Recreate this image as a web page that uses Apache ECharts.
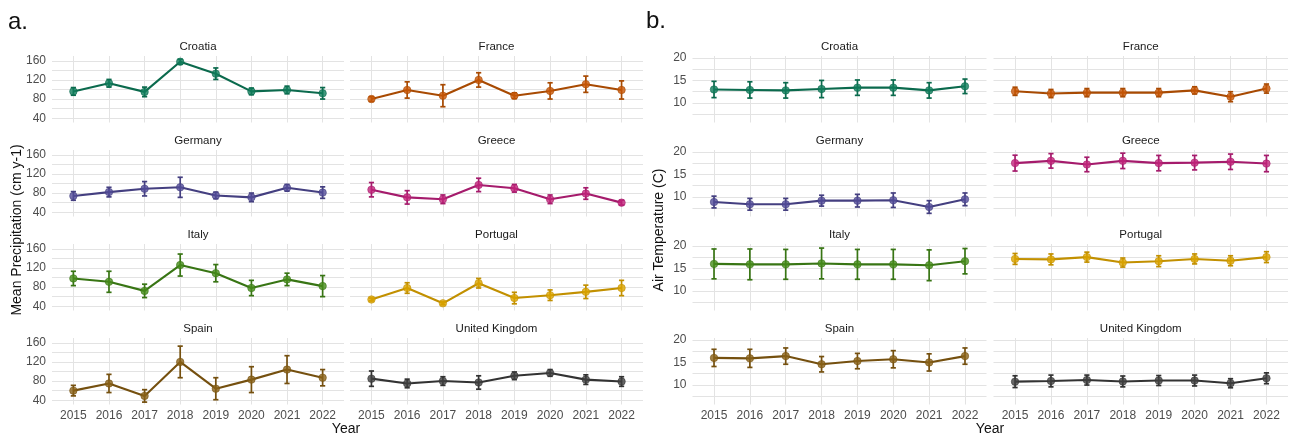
<!DOCTYPE html>
<html>
<head>
<meta charset="utf-8">
<script src="https://cdn.jsdelivr.net/npm/echarts@6/dist/echarts.min.js"></script>
<style>
  html, body { margin: 0; padding: 0; background: #ffffff; }
  #chart { width: 1291px; height: 437px; }
</style>
</head>
<body>
<div id="chart"></div>
<script>
// Years and countries shown in every facet
const years = [2015, 2016, 2017, 2018, 2019, 2020, 2021, 2022];
const countries = ['Croatia', 'France', 'Germany', 'Greece', 'Italy', 'Portugal', 'Spain', 'United Kingdom'];

// a. Mean precipitation (cm y-1): means and error half-widths
const precipCroatia     = [96, 113, 95, 158, 133, 96, 99, 92];
const precipCroatiaErr  = [8, 8, 10, 5, 12, 7, 8, 12];
const precipFrance      = [80, 99, 87, 120, 87, 97, 111, 99];
const precipFranceErr   = [5, 17, 23, 15, 6, 17, 17, 19];
const precipGermany     = [74, 82, 89, 92, 75, 71, 91, 81];
const precipGermanyErr  = [9, 10, 15, 21, 7, 9, 7, 12];
const precipGreece      = [87, 71, 67, 97, 90, 67, 79, 60];
const precipGreeceErr   = [15, 14, 9, 14, 8, 9, 12, 5];
const precipItaly       = [98, 91, 72, 126, 109, 78, 96, 82];
const precipItalyErr    = [15, 22, 14, 23, 18, 16, 13, 22];
const precipPortugal    = [54, 78, 46, 88, 57, 63, 70, 78];
const precipPortugalErr = [3, 11, 3, 10, 12, 11, 14, 16];
const precipSpain       = [60, 75, 49, 120, 64, 83, 104, 87];
const precipSpainErr    = [11, 19, 13, 33, 23, 27, 29, 17];
const precipUK          = [85, 75, 80, 77, 91, 97, 83, 79];
const precipUKErr       = [16, 9, 9, 14, 8, 7, 10, 10];

// b. Air temperature (C): means and error half-widths
const tempCroatia     = [13.0, 12.9, 12.8, 13.1, 13.4, 13.4, 12.8, 13.7];
const tempCroatiaErr  = [1.8, 1.8, 1.7, 1.9, 1.7, 1.7, 1.7, 1.6];
const tempFrance      = [12.6, 12.1, 12.3, 12.3, 12.3, 12.8, 11.4, 13.2];
const tempFranceErr   = [0.9, 0.9, 0.9, 0.9, 0.9, 0.8, 1.1, 1.0];
const tempGermany     = [8.9, 8.4, 8.4, 9.2, 9.2, 9.3, 7.8, 9.5];
const tempGermanyErr  = [1.3, 1.3, 1.3, 1.2, 1.4, 1.6, 1.4, 1.4];
const tempGreece      = [17.5, 18.0, 17.2, 18.0, 17.5, 17.6, 17.8, 17.4];
const tempGreeceErr   = [1.75, 1.6, 1.6, 1.7, 1.7, 1.6, 1.7, 1.8];
const tempItaly       = [16.0, 15.9, 15.9, 16.1, 15.9, 15.9, 15.7, 16.6];
const tempItalyErr    = [3.3, 3.4, 3.3, 3.4, 3.3, 3.3, 3.4, 2.8];
const tempPortugal    = [17.1, 17.0, 17.5, 16.3, 16.6, 17.1, 16.7, 17.5];
const tempPortugalErr = [1.2, 1.2, 1.1, 1.0, 1.2, 1.1, 1.1, 1.2];
const tempSpain       = [16.0, 15.9, 16.4, 14.6, 15.3, 15.7, 15.0, 16.4];
const tempSpainErr    = [1.9, 2.0, 1.8, 1.7, 1.7, 1.9, 1.9, 1.8];
const tempUK          = [10.75, 10.9, 11.1, 10.8, 11.0, 11.0, 10.4, 11.5];
const tempUKErr       = [1.3, 1.3, 1.1, 1.2, 1.1, 1.2, 1.0, 1.2];

// Axis ticks
const precipTickLabels = [40, 80, 120, 160];
const precipGridLines  = [40, 60, 80, 100, 120, 140, 160];
const tempTickLabels   = [10, 15, 20];
const tempGridLines    = [7.5, 10, 12.5, 15, 17.5, 20];

const precipSeries = [
  [precipCroatia, precipCroatiaErr], [precipFrance, precipFranceErr],
  [precipGermany, precipGermanyErr], [precipGreece, precipGreeceErr],
  [precipItaly, precipItalyErr], [precipPortugal, precipPortugalErr],
  [precipSpain, precipSpainErr], [precipUK, precipUKErr]
];
const tempSeries = [
  [tempCroatia, tempCroatiaErr], [tempFrance, tempFranceErr],
  [tempGermany, tempGermanyErr], [tempGreece, tempGreeceErr],
  [tempItaly, tempItalyErr], [tempPortugal, tempPortugalErr],
  [tempSpain, tempSpainErr], [tempUK, tempUKErr]
];

// Per-country colours: [line / error bar, point]
const palette = [
  ['#0b6a4d', '#107d5b'],
  ['#a84a02', '#c85606'],
  ['#443f80', '#534c98'],
  ['#a51b6c', '#c2247b'],
  ['#387514', '#468c1a'],
  ['#c29000', '#dba400'],
  ['#75500f', '#8a6118'],
  ['#333333', '#404040']
];

const FONT = 'Liberation Sans, Arial, sans-serif';
const rowTops = [56, 150, 244, 338];
const panelH = 66.5;

const panels = [
  { series: precipSeries, min: 31, max: 170, labels: precipTickLabels, lines: precipGridLines,
    cols: [[52, 292], [350, 293]] },
  { series: tempSeries, min: 5.7, max: 20.4, labels: tempTickLabels, lines: tempGridLines,
    cols: [[692.5, 294], [993.5, 294.5]] }
];

const grid = [], xAxis = [], yAxis = [], series = [], graphic = [];

panels.forEach((panel, p) => {
  countries.forEach((name, f) => {
    const row = Math.floor(f / 2), col = f % 2;
    const gi = grid.length;
    const [left, width] = panel.cols[col];
    grid.push({ left: left, top: rowTops[row], width: width, height: panelH });

    xAxis.push({
      type: 'value', gridIndex: gi, min: 2014.4, max: 2022.6,
      axisLine: { show: false },
      axisTick: { show: false, customValues: years },
      axisLabel: {
        show: row === 3, customValues: years, margin: 5,
        color: '#4d4d4d', fontSize: 12, fontFamily: FONT,
        formatter: v => String(v)
      },
      splitLine: { show: true, lineStyle: { color: '#e3e3e3', width: 1 } }
    });
    yAxis.push({
      type: 'value', gridIndex: gi, min: panel.min, max: panel.max,
      axisLine: { show: false },
      axisTick: { show: false, customValues: panel.lines },
      axisLabel: {
        show: col === 0, customValues: panel.labels, margin: 6,
        color: '#4d4d4d', fontSize: 12, fontFamily: FONT
      },
      splitLine: { show: true, lineStyle: { color: '#e3e3e3', width: 1 } }
    });

    const [means, errs] = panel.series[f];
    const [lineCol, pointCol] = palette[f];

    series.push({
      type: 'line', xAxisIndex: gi, yAxisIndex: gi,
      data: years.map((y, i) => [y, means[i]]),
      symbol: 'none', z: 2,
      lineStyle: { color: lineCol, width: 2.1 },
      silent: true
    });
    series.push({
      type: 'custom', xAxisIndex: gi, yAxisIndex: gi, z: 3,
      data: years.map((y, i) => [y, means[i] - errs[i], means[i] + errs[i]]),
      encode: { x: 0, y: [1, 2] },
      renderItem: (params, api) => {
        const lo = api.coord([api.value(0), api.value(1)]);
        const hi = api.coord([api.value(0), api.value(2)]);
        const cap = 2.6;
        const style = { stroke: lineCol, lineWidth: 1.7 };
        return {
          type: 'group',
          children: [
            { type: 'line', shape: { x1: lo[0], y1: lo[1], x2: hi[0], y2: hi[1] }, style },
            { type: 'line', shape: { x1: lo[0] - cap, y1: lo[1], x2: lo[0] + cap, y2: lo[1] }, style },
            { type: 'line', shape: { x1: hi[0] - cap, y1: hi[1], x2: hi[0] + cap, y2: hi[1] }, style }
          ]
        };
      },
      silent: true
    });
    series.push({
      type: 'scatter', xAxisIndex: gi, yAxisIndex: gi, z: 4,
      data: years.map((y, i) => [y, means[i]]),
      symbol: 'circle', symbolSize: 7.5,
      itemStyle: { color: pointCol, borderColor: lineCol, borderWidth: 0.7 },
      silent: true
    });

    // facet strip title
    graphic.push({
      type: 'text', x: left + width / 2, y: rowTops[row] - 9.5,
      style: { text: name, align: 'center', verticalAlign: 'middle',
               fill: '#1a1a1a', fontSize: 11.5, fontFamily: FONT }
    });
  });
});

// Panel letters and axis titles
graphic.push(
  { type: 'text', x: 8, y: 22, style: { text: 'a.', align: 'left', verticalAlign: 'middle', fill: '#111', fontSize: 24, fontFamily: FONT } },
  { type: 'text', x: 646, y: 21, style: { text: 'b.', align: 'left', verticalAlign: 'middle', fill: '#111', fontSize: 24, fontFamily: FONT } },
  { type: 'text', x: 17, y: 230, rotation: Math.PI / 2,
    style: { text: 'Mean Precipitation (cm y-1)', align: 'center', verticalAlign: 'middle', fill: '#111', fontSize: 14, fontFamily: FONT } },
  { type: 'text', x: 659, y: 230, rotation: Math.PI / 2,
    style: { text: 'Air Temperature (C)', align: 'center', verticalAlign: 'middle', fill: '#111', fontSize: 14, fontFamily: FONT } },
  { type: 'text', x: 346, y: 429, style: { text: 'Year', align: 'center', verticalAlign: 'middle', fill: '#111', fontSize: 14, fontFamily: FONT } },
  { type: 'text', x: 990, y: 429, style: { text: 'Year', align: 'center', verticalAlign: 'middle', fill: '#111', fontSize: 14, fontFamily: FONT } }
);

const chart = echarts.init(document.getElementById('chart'), null, { renderer: 'canvas' });
chart.setOption({
  animation: false,
  backgroundColor: '#ffffff',
  grid, xAxis, yAxis, series, graphic
});
</script>
</body>
</html>
